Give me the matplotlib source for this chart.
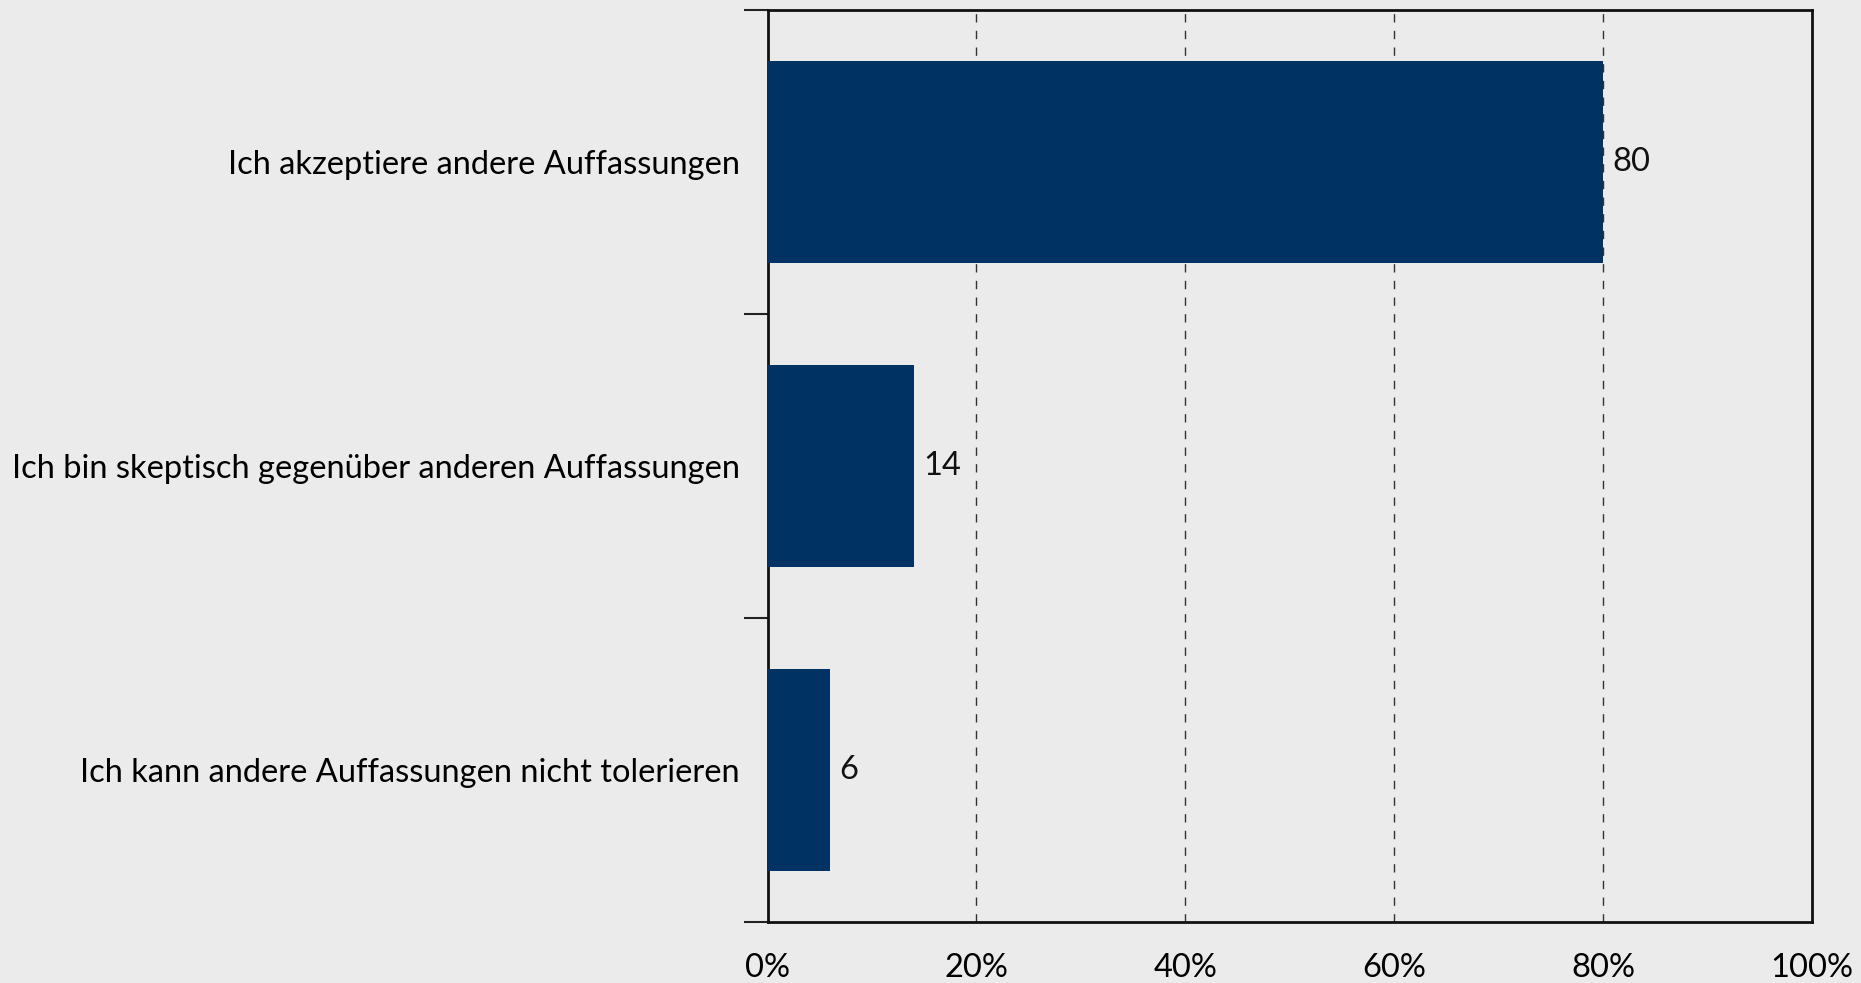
import matplotlib
matplotlib.use('Agg')
import matplotlib.pyplot as plt
import numpy as np

categories = ['Ich akzeptiere andere Auffassungen',
              'Ich bin skeptisch gegenüber anderen Auffassungen',
              'Ich kann andere Auffassungen nicht tolerieren']
values = [80, 14, 6]
xticks = [0, 20, 40, 60, 80, 100]
xtick_labels = ['0%', '20%', '40%', '60%', '80%', '100%']

bg = '#ebebeb'
bar_color = '#003263'

plt.rcParams['font.family'] = ['Lato', 'DejaVu Sans']
fs = 23.5

fig = plt.figure(figsize=(18.61, 9.83), dpi=100, facecolor=bg)
ax = fig.add_axes([0.4125, 0.062, 0.561, 0.928])
ax.set_facecolor(bg)

pos = np.arange(len(categories))
ax.barh(pos, values, height=0.665, color=bar_color, zorder=3)
for p, v in zip(pos, values):
    ax.text(v + 0.9, p, str(v), va='center', ha='left', fontsize=fs, color='#111111')

ax.set_xlim(0, 100)
ax.set_ylim(len(categories) - 0.5, -0.5)

# gridlines
ax.set_xticks(xticks)
ax.set_xticklabels(xtick_labels, fontsize=fs)
ax.tick_params(axis='x', length=0, pad=22)
for x in xticks[1:-1]:
    ax.axvline(x, color='#333333', lw=1, ls=(0, (6, 6)), zorder=1)

# y ticks at category boundaries, labels at centers
ax.set_yticks(np.arange(-0.5, len(categories), 1))
ax.set_yticklabels([])
ax.tick_params(axis='y', which='major', direction='out', length=17, width=1.5, color='#222222')
ax.set_yticks(pos, minor=True)
ax.set_yticklabels(categories, minor=True, fontsize=fs)
ax.tick_params(axis='y', which='minor', length=0, pad=20)

for s in ax.spines.values():
    s.set_linewidth(2)
    s.set_color('#111111')

fig.savefig('out.png', dpi=100, facecolor=bg)
